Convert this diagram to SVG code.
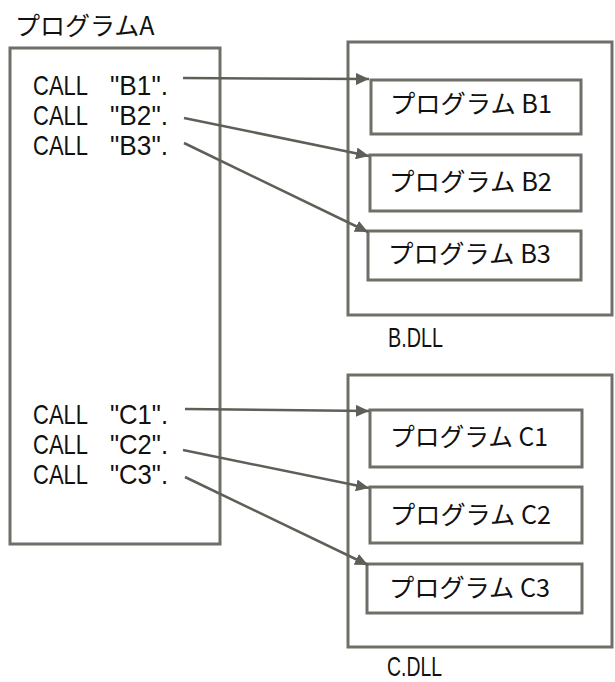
<svg xmlns="http://www.w3.org/2000/svg" width="615" height="682" viewBox="0 0 615 682">
<style>
.box{fill:#fff;stroke:#6f6f68;stroke-width:3}
.conn{fill:none;stroke:#5f5f58;stroke-width:2.5}
.jp{font-family:"Noto Sans CJK JP","Noto Sans",sans-serif;font-size:25px;fill:#111}
.code{font-family:"Liberation Sans",sans-serif;font-size:28px;fill:#111}
</style>
<defs>
<marker id="ah" markerUnits="userSpaceOnUse" markerWidth="14" markerHeight="12" refX="13" refY="6" orient="auto">
<path d="M0,0 L13,6 L0,12 z" fill="#5f5f58"/>
</marker>
</defs>
<rect width="615" height="682" fill="#fff"/>
<g id="programA">
<text class="jp" x="15" y="35">プログラムA</text>
<rect class="box" x="10" y="48" width="210" height="496"/>
<text class="code" x="33" y="95" textLength="55" lengthAdjust="spacingAndGlyphs">CALL</text>
<text class="code" x="110" y="95" textLength="58" lengthAdjust="spacingAndGlyphs">"B1".</text>
<text class="code" x="33" y="125" textLength="55" lengthAdjust="spacingAndGlyphs">CALL</text>
<text class="code" x="110" y="125" textLength="58" lengthAdjust="spacingAndGlyphs">"B2".</text>
<text class="code" x="33" y="155" textLength="55" lengthAdjust="spacingAndGlyphs">CALL</text>
<text class="code" x="110" y="155" textLength="58" lengthAdjust="spacingAndGlyphs">"B3".</text>
<text class="code" x="33" y="424" textLength="55" lengthAdjust="spacingAndGlyphs">CALL</text>
<text class="code" x="110" y="424" textLength="58" lengthAdjust="spacingAndGlyphs">"C1".</text>
<text class="code" x="33" y="454" textLength="55" lengthAdjust="spacingAndGlyphs">CALL</text>
<text class="code" x="110" y="454" textLength="58" lengthAdjust="spacingAndGlyphs">"C2".</text>
<text class="code" x="33" y="484" textLength="55" lengthAdjust="spacingAndGlyphs">CALL</text>
<text class="code" x="110" y="484" textLength="58" lengthAdjust="spacingAndGlyphs">"C3".</text>
</g>
<g id="bdll">
<rect class="box" x="348" y="42" width="264" height="273"/>
<text class="code" x="388" y="347" textLength="55" lengthAdjust="spacingAndGlyphs">B.DLL</text>
</g>
<g id="programB1">
<rect class="box" x="371" y="80" width="210" height="54"/>
<text class="jp" x="390" y="113" textLength="162" lengthAdjust="spacingAndGlyphs">プログラム B1</text>
</g>
<g id="programB2">
<rect class="box" x="370" y="155" width="211" height="56"/>
<text class="jp" x="389" y="191" textLength="163" lengthAdjust="spacingAndGlyphs">プログラム B2</text>
</g>
<g id="programB3">
<rect class="box" x="368" y="231" width="213" height="49"/>
<text class="jp" x="388" y="263" textLength="163" lengthAdjust="spacingAndGlyphs">プログラム B3</text>
</g>
<g id="cdll">
<rect class="box" x="348" y="375" width="264" height="272"/>
<text class="code" x="387" y="676" textLength="55" lengthAdjust="spacingAndGlyphs">C.DLL</text>
</g>
<g id="programC1">
<rect class="box" x="370" y="410" width="212" height="57"/>
<text class="jp" x="390" y="446" textLength="158" lengthAdjust="spacingAndGlyphs">プログラム C1</text>
</g>
<g id="programC2">
<rect class="box" x="370" y="487" width="212" height="56"/>
<text class="jp" x="390" y="524" textLength="161" lengthAdjust="spacingAndGlyphs">プログラム C2</text>
</g>
<g id="programC3">
<rect class="box" x="367" y="564" width="215" height="49"/>
<text class="jp" x="389" y="597" textLength="161" lengthAdjust="spacingAndGlyphs">プログラム C3</text>
</g>
<g id="connectors">
<line class="conn" x1="183" y1="78" x2="369" y2="79" marker-end="url(#ah)"/>
<line class="conn" x1="184" y1="118" x2="369" y2="156" marker-end="url(#ah)"/>
<line class="conn" x1="184" y1="143" x2="368" y2="232" marker-end="url(#ah)"/>
<line class="conn" x1="185" y1="409" x2="369" y2="411" marker-end="url(#ah)"/>
<line class="conn" x1="183" y1="450" x2="369" y2="488" marker-end="url(#ah)"/>
<line class="conn" x1="185" y1="477" x2="368" y2="565" marker-end="url(#ah)"/>
</g>
</svg>
